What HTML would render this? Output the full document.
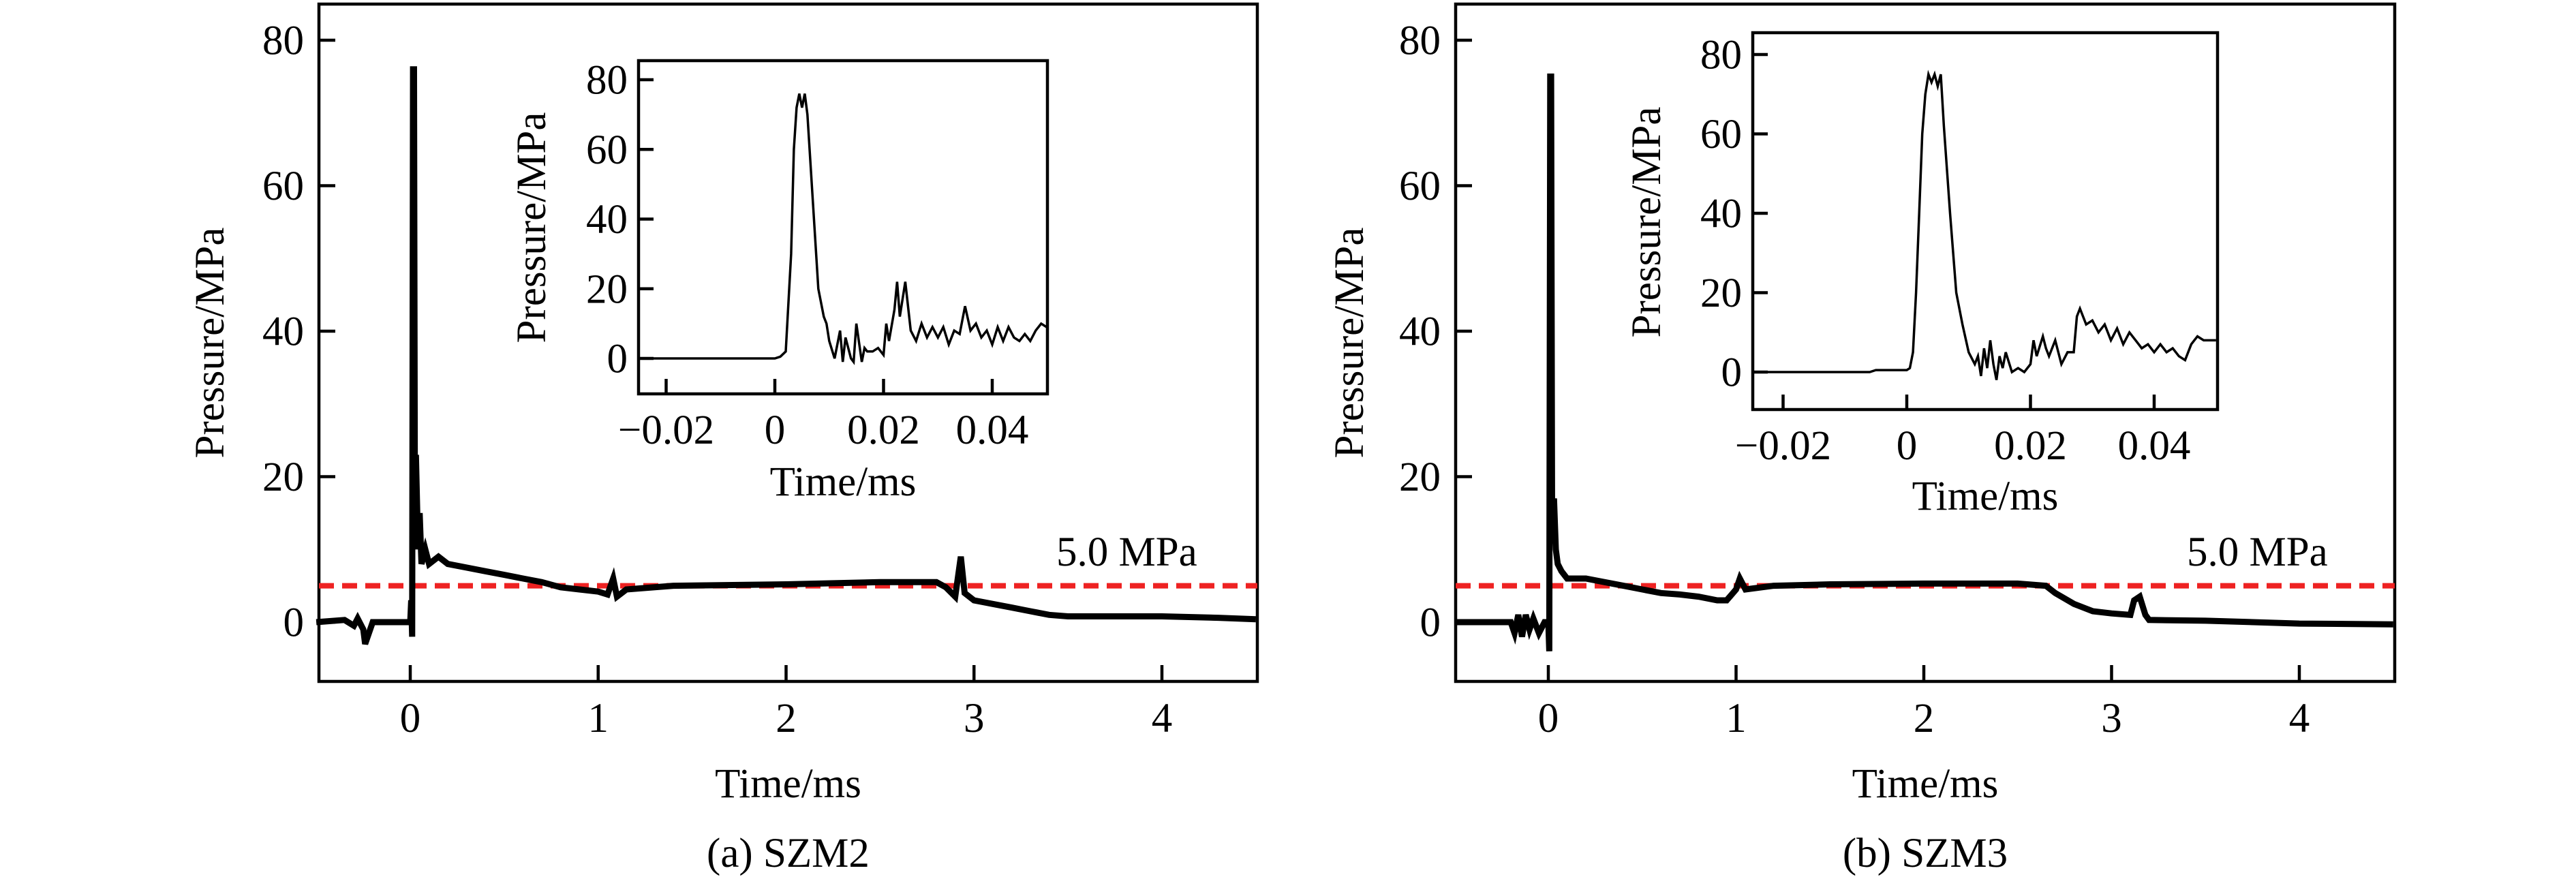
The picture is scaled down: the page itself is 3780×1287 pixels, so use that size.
<!DOCTYPE html>
<html><head><meta charset="utf-8">
<style>
html,body{margin:0;padding:0;background:#fff;}
svg{display:block;}
text{font-family:"Liberation Serif",serif;fill:#000;}
</style></head>
<body>
<svg id="fig" width="3780" height="1287" viewBox="0 0 3780 1287" xmlns="http://www.w3.org/2000/svg"></svg>
<script>
// ---- data ----
const mainXTicks = [0, 1, 2, 3, 4];
const mainYTicks = [0, 20, 40, 60, 80];
const insetXTicks = [-0.02, 0, 0.02, 0.04];
const insetXTickLabels = ["\u22120.02", "0", "0.02", "0.04"];
const insetYTicks = [0, 20, 40, 60, 80];
const refPressure = 5.0;

const szm2Time = [-0.5,-0.35,-0.3,-0.28,-0.25,-0.24,-0.2,-0.1,0,0.005,0.01,0.015,0.02,0.025,0.03,0.04,0.05,0.06,0.08,0.1,0.15,0.2,0.3,0.4,0.5,0.6,0.7,0.8,0.9,1.0,1.05,1.08,1.1,1.15,1.4,2.0,2.5,2.8,2.85,2.9,2.93,2.95,3.0,3.1,3.2,3.3,3.4,3.5,4.0,4.3,4.5];
const szm2Pressure = [0,0.3,-0.5,0.5,-1,-3,0,0,0,3,-2,76,76,10,23,12,15,8,10,8,9,8,7.5,7,6.5,6,5.5,4.8,4.5,4.2,3.8,6,3.5,4.5,5,5.2,5.5,5.5,4.8,3.5,9,4,3,2.5,2,1.5,1,0.8,0.8,0.6,0.4];

const szm2InsetTime = [-0.025,0,0.001,0.002,0.003,0.0035,0.004,0.0045,0.005,0.0055,0.006,0.007,0.008,0.009,0.0095,0.01,0.011,0.012,0.0125,0.013,0.014,0.0145,0.015,0.016,0.0165,0.017,0.018,0.019,0.02,0.0205,0.021,0.022,0.0225,0.023,0.024,0.025,0.026,0.027,0.028,0.029,0.03,0.031,0.032,0.033,0.034,0.035,0.036,0.037,0.038,0.039,0.04,0.041,0.042,0.043,0.044,0.045,0.046,0.047,0.048,0.049,0.05];
const szm2InsetPressure = [0,0,0.5,2,30,60,72,76,72,76,70,45,20,12,10,5,0,8,-1,6,0,-1,10,-1,3,2,2,3,1,10,5,14,22,12,22,8,5,10,6,9,6,9,4,8,7,15,8,10,6,8,4,9,5,9,6,5,7,5,8,10,9];

const szm3Time = [-0.5,-0.2,-0.18,-0.16,-0.14,-0.12,-0.1,-0.08,-0.05,-0.02,0,0.005,0.01,0.015,0.02,0.03,0.04,0.05,0.07,0.1,0.2,0.3,0.4,0.5,0.6,0.7,0.8,0.9,0.95,1.0,1.02,1.05,1.2,1.5,2.0,2.5,2.65,2.7,2.8,2.9,3.0,3.1,3.12,3.15,3.18,3.2,3.5,4.0,4.5];
const szm3Pressure = [0,0,-1.5,1,-2,1,-1,0.5,-1.5,0,0,-4,75,75,15,17,10,8,7,6,6,5.5,5,4.5,4,3.8,3.5,3,3,4.5,6,4.5,5,5.2,5.3,5.3,5,4,2.5,1.5,1.2,1,3,3.5,1,0.3,0.2,-0.2,-0.3];

const szm3InsetTime = [-0.025,-0.006,-0.005,0,0.0005,0.001,0.0015,0.002,0.0025,0.003,0.0035,0.004,0.0045,0.005,0.0055,0.006,0.007,0.008,0.009,0.01,0.011,0.0115,0.012,0.0125,0.013,0.0135,0.014,0.0145,0.015,0.0155,0.016,0.017,0.018,0.019,0.02,0.0205,0.021,0.022,0.0225,0.023,0.024,0.025,0.026,0.027,0.0275,0.028,0.029,0.03,0.031,0.032,0.033,0.034,0.035,0.036,0.037,0.038,0.039,0.04,0.041,0.042,0.043,0.044,0.045,0.046,0.047,0.048,0.05];
const szm3InsetPressure = [0,0,0.5,0.5,1,5,20,40,60,70,75,73,75,72,75,62,40,20,12,5,2,4,-1,6,1,8,2,-2,4,1,5,0,1,0,2,8,4,9,6,4,8,2,5,5,14,16,12,13,10,12,8,11,7,10,8,6,7,5,7,5,6,4,3,7,9,8,8];

// ---- drawing ----
const NS = "http://www.w3.org/2000/svg";
const svg = document.getElementById("fig");
function mk(tag, attrs, parent){
  const e = document.createElementNS(NS, tag);
  for (const k in attrs) e.setAttribute(k, attrs[k]);
  (parent||svg).appendChild(e);
  return e;
}
function scale(d0,d1,r0,r1){ return v => r0 + (v-d0)/(d1-d0)*(r1-r0); }

function drawAxes(g, box, xs, ys, xTicks, xLabels, yTicks, fs, tickLen, xLabY, yLabRight, prefix){
  const frame = mk("rect",{x:box.l,y:box.t,width:box.r-box.l,height:box.b-box.t,fill:"none",stroke:"#000","stroke-width":4.5},g);
  
  
  xTicks.forEach((v,i)=>{
    const x = xs(v);
    const t = mk("line",{x1:x,x2:x,y1:box.b,y2:box.b-tickLen,stroke:"#000","stroke-width":4.5},g);
    
    
    const tl = mk("text",{x:x,y:xLabY,"font-size":fs,"text-anchor":"middle"},g);
    tl.textContent = xLabels[i];
    
    
  });
  yTicks.forEach(v=>{
    const y = ys(v);
    const t = mk("line",{x1:box.l,x2:box.l+tickLen,y1:y,y2:y,stroke:"#000","stroke-width":4.5},g);
    
    
    const tl = mk("text",{x:yLabRight,y:y+fs*0.34,"font-size":fs,"text-anchor":"end"},g);
    tl.textContent = String(v);
    
    
  });
}
function drawLine(g, xs, ys, tArr, pArr, w, name){
  let d = "";
  tArr.forEach((t,i)=>{ d += (i?"L":"M") + xs(t).toFixed(1) + "," + ys(pArr[i]).toFixed(1); });
  const p = mk("path",{d:d,fill:"none",stroke:"#000","stroke-width":w,"stroke-linejoin":"miter"},g);
  
  
}
function txt(g, x, y, s, fs, anchor, rot, name){
  const e = mk("text",{x:x,y:y,"font-size":fs,"text-anchor":anchor||"middle"},g);
  if (rot) e.setAttribute("transform","rotate(-90 "+x+" "+y+")");
  e.textContent = s;
  
  
}

const FS = 61;
function panel(cfg){
  const g = mk("g",{});
  
  
  const m = cfg.main;
  const xs = scale(0,4,m.x0,m.x4), ys = scale(0,80,m.y0,m.y80);
  const box = {l:m.l,r:m.r,t:6,b:1000};
  drawAxes(g, box, xs, ys, mainXTicks, mainXTicks.map(String), mainYTicks, FS, 24, 1074, m.l-22, 'main-');
  const rl = mk("line",{x1:box.l,x2:box.r,y1:ys(refPressure),y2:ys(refPressure),stroke:"#ee2222","stroke-width":8,"stroke-dasharray":"22 12"},g);
  
  
  drawLine(g, xs, ys, cfg.t, cfg.p, 9, 'pressure-trace');
  txt(g, m.refLabelX, 830, "5.0 MPa", FS, "start", false, 'reference-label');
  txt(g, (box.l+box.r)/2, 1170, "Time/ms", FS, "middle", false, 'x-axis-title');
  txt(g, m.yTitleX, 503, "Pressure/MPa", FS, "middle", true, 'y-axis-title');
  txt(g, (box.l+box.r)/2, 1272, cfg.caption, FS, "middle", false, 'caption');
  const n = cfg.inset;
  const ig = mk("g",{},g);
  
  
  const bg = mk("rect",{x:n.l,y:n.t,width:n.r-n.l,height:n.b-n.t,fill:"#fff"},ig);
  
  
  const ixs = scale(0,0.04,n.x0,n.x4), iys = scale(0,80,n.y0,n.y80);
  drawAxes(ig, {l:n.l,r:n.r,t:n.t,b:n.b}, ixs, iys, insetXTicks, insetXTickLabels, insetYTicks, FS, 22, n.xLabY, n.l-16, 'inset-');
  drawLine(ig, ixs, iys, cfg.it, cfg.ip, 3.5, 'inset-pressure-trace');
  txt(ig, (n.l+n.r)/2, n.xTitleY, "Time/ms", FS, "middle", false, 'inset-x-axis-title');
  txt(ig, n.yTitleX, n.yTitleY, "Pressure/MPa", FS, "middle", true, 'inset-y-axis-title');
}

panel({name:"panel-a-szm2", caption:"(a) SZM2", t:szm2Time, p:szm2Pressure, it:szm2InsetTime, ip:szm2InsetPressure,
  main:{l:468,r:1845,x0:602,x4:1705,y0:913,y80:59,refLabelX:1550,yTitleX:328},
  inset:{l:937,r:1537,t:89,b:578,x0:1137,x4:1456,y0:526,y80:117,xLabY:651,xTitleY:727,yTitleX:800,yTitleY:334}});
panel({name:"panel-b-szm3", caption:"(b) SZM3", t:szm3Time, p:szm3Pressure, it:szm3InsetTime, ip:szm3InsetPressure,
  main:{l:2136,r:3514,x0:2272,x4:3374,y0:913,y80:59,refLabelX:3209,yTitleX:2000},
  inset:{l:2572,r:3254,t:48,b:601,x0:2798,x4:3161,y0:546,y80:80,xLabY:674,xTitleY:748,yTitleX:2436,yTitleY:326}});
</script>
</body></html>
